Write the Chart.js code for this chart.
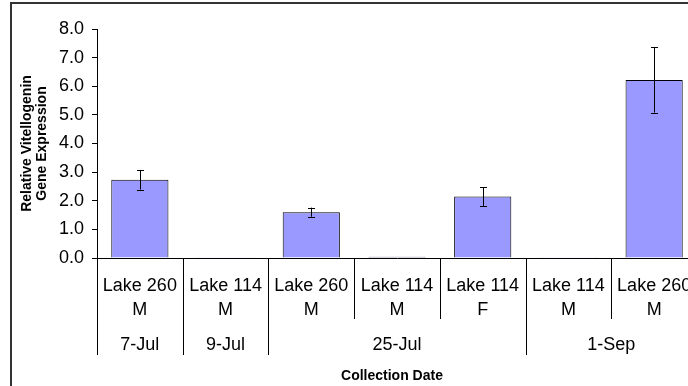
<!DOCTYPE html>
<html>
<head>
<meta charset="utf-8">
<script src="https://cdn.jsdelivr.net/npm/chart.js@4.4.1/dist/chart.umd.min.js"></script>
<style>
  html, body { margin: 0; padding: 0; background: #fff; overflow: hidden; }
  #wrap { position: relative; width: 712px; height: 386px; }
</style>
</head>
<body>
<div id="wrap"><canvas id="c" width="712" height="386"></canvas></div>
<script>
// Sample groups: site, sex and collection date for each bar
const sites = ["Lake 260", "Lake 114", "Lake 260", "Lake 114", "Lake 114", "Lake 114", "Lake 260"];
const sexes = ["M", "M", "M", "M", "F", "M", "M"];
const dates = ["7-Jul", "9-Jul", "25-Jul", "25-Jul", "25-Jul", "1-Sep", "1-Sep"];

// Mean relative vitellogenin expression and its error (half-range)
const expression = [2.73, 0.005, 1.60, 0.04, 2.15, 0.005, 6.22];
const errors = [0.34, null, 0.16, null, 0.33, null, 1.14];

const yTicks = [0, 1, 2, 3, 4, 5, 6, 7, 8];
const yTitle = ["Relative Vitellogenin", "Gene Expression"];
const xTitle = "Collection Date";

const FONT = '"Liberation Sans", Arial, Helvetica, sans-serif';

const errorBars = {
  id: 'errorBars',
  afterDatasetsDraw(chart) {
    const { ctx, scales: { x, y } } = chart;
    ctx.save();
    ctx.strokeStyle = '#000';
    ctx.lineWidth = 1;
    errors.forEach((e, i) => {
      if (e == null) return;
      const cx = Math.round(x.getPixelForValue(i)) + 0.5;
      const top = y.getPixelForValue(expression[i] + e);
      const bot = y.getPixelForValue(expression[i] - e);
      ctx.beginPath();
      ctx.moveTo(cx, top); ctx.lineTo(cx, bot);
      ctx.moveTo(cx - 3.5, Math.round(top) + 0.5); ctx.lineTo(cx + 3.5, Math.round(top) + 0.5);
      ctx.moveTo(cx - 3.5, Math.round(bot) + 0.5); ctx.lineTo(cx + 3.5, Math.round(bot) + 0.5);
      ctx.stroke();
    });
    ctx.restore();
  }
};

const categoryAxis = {
  id: 'categoryAxis',
  afterDraw(chart) {
    const { ctx, chartArea: area, scales: { x } } = chart;
    const n = sites.length;
    const edge = (i) => {
      if (i <= 0) return area.left;
      if (i >= n) return area.right;
      return (x.getPixelForValue(i - 1) + x.getPixelForValue(i)) / 2;
    };
    ctx.save();
    // dividers between categories; longer ones separate the collection dates
    ctx.strokeStyle = '#000';
    ctx.lineWidth = 1;
    for (let i = 0; i <= n; i++) {
      const groupEdge = i === 0 || i === n || dates[i] !== dates[i - 1];
      const px = Math.round(edge(i)) + 0.5;
      ctx.beginPath();
      ctx.moveTo(px, area.bottom);
      ctx.lineTo(px, groupEdge ? 355 : 319);
      ctx.stroke();
    }
    // site / sex labels
    ctx.fillStyle = '#000';
    ctx.textAlign = 'center';
    ctx.textBaseline = 'alphabetic';
    ctx.font = '18px ' + FONT;
    for (let i = 0; i < n; i++) {
      const cx = x.getPixelForValue(i);
      ctx.fillText(sites[i], cx, 291);
      ctx.fillText(sexes[i], cx, 315);
    }
    // date labels centred over their groups
    let start = 0;
    for (let i = 1; i <= n; i++) {
      if (i === n || dates[i] !== dates[start]) {
        const cx = (edge(start) + edge(i)) / 2;
        ctx.fillText(dates[start], cx, 350);
        start = i;
      }
    }
    // axis titles
    ctx.font = 'bold 14px ' + FONT;
    ctx.fillText(xTitle, (area.left + area.right) / 2 - 5, 380);
    ctx.translate(0, (area.top + area.bottom) / 2);
    ctx.rotate(-Math.PI / 2);
    ctx.textBaseline = 'middle';
    ctx.fillText(yTitle[0], 0, 27);
    ctx.fillText(yTitle[1], 0, 42);
    ctx.restore();
    // outer frame
    ctx.save();
    ctx.strokeStyle = '#333';
    ctx.lineWidth = 2;
    ctx.strokeRect(11, 3, 695, 420);
    ctx.restore();
  }
};

new Chart(document.getElementById('c'), {
  type: 'bar',
  data: {
    labels: sites.map((s, i) => [s, sexes[i]]),
    datasets: [{
      data: expression,
      backgroundColor: '#9999FF',
      borderColor: '#000',
      borderWidth: 1,
      barPercentage: 0.667,
      categoryPercentage: 1
    }]
  },
  options: {
    responsive: false,
    animation: false,
    devicePixelRatio: 1,
    layout: { padding: { top: 29, right: 15, bottom: 0, left: 0 } },
    plugins: { legend: { display: false }, tooltip: { enabled: false } },
    scales: {
      x: {
        grid: { display: false },
        ticks: { display: false },
        border: { display: true, color: '#000', width: 1 },
        afterFit(scale) { scale.height = 128; }
      },
      y: {
        min: yTicks[0],
        max: yTicks[yTicks.length - 1],
        afterBuildTicks(scale) { scale.ticks = yTicks.map(v => ({ value: v })); },
        ticks: {
          color: '#000',
          padding: 8,
          font: { family: FONT, size: 18 },
          callback: (v) => Number(v).toFixed(1)
        },
        grid: { drawOnChartArea: false, drawTicks: true, tickLength: 5, color: '#000' },
        border: { display: true, color: '#000', width: 1 },
        afterFit(scale) { scale.width = 97; }
      }
    }
  },
  plugins: [errorBars, categoryAxis]
});
</script>
</body>
</html>
